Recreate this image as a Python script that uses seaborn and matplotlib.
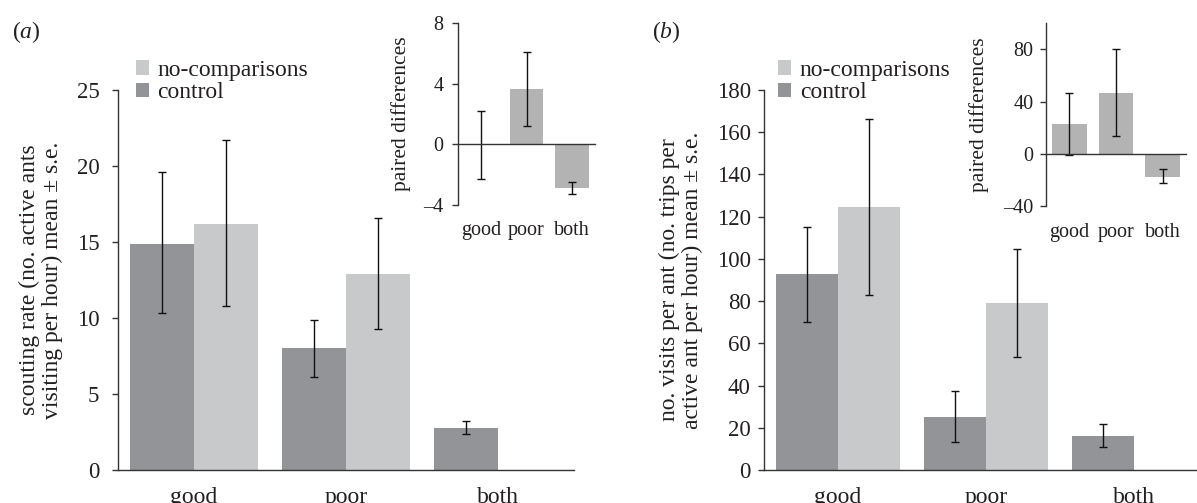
import matplotlib
matplotlib.use("Agg")
import matplotlib.pyplot as plt
import matplotlib.transforms as mtransforms
from matplotlib.patches import Patch
import numpy as np
import pandas as pd
import seaborn as sns

# categories and groups
categories = ["good", "poor", "both"]
groups = ["control", "no-comparisons"]

# (a) scouting rate, mean with s.e. limits
scout_control = [14.9, 8.0, 2.75]
scout_control_lo = [10.3, 6.1, 2.35]
scout_control_hi = [19.6, 9.9, 3.2]
scout_nocomp = [16.2, 12.9, 0.0]
scout_nocomp_lo = [10.8, 9.25, 0.0]
scout_nocomp_hi = [21.7, 16.55, 0.0]

# (a) inset: paired differences
scout_diff = [0.0, 3.65, -2.85]
scout_diff_lo = [-2.25, 1.2, -3.25]
scout_diff_hi = [2.2, 6.1, -2.45]

# (b) visits per ant
visit_control = [92.8, 25.3, 16.1]
visit_control_lo = [70.3, 13.4, 10.7]
visit_control_hi = [115.2, 37.4, 21.6]
visit_nocomp = [124.4, 79.0, 0.0]
visit_nocomp_lo = [82.9, 53.7, 0.0]
visit_nocomp_hi = [166.3, 104.5, 0.0]

# (b) inset: paired differences
visit_diff = [22.8, 46.5, -17.6]
visit_diff_lo = [-1.0, 13.3, -22.5]
visit_diff_hi = [46.3, 80.0, -12.0]

CONTROL = "#939498"
NOCOMP = "#c8c9cb"
INSET = "#b3b3b3"
INK = "#231f20"
AXIS = "#333333"

sns.set_theme(style="white")
plt.rcParams["font.family"] = ["Liberation Serif", "DejaVu Serif"]
plt.rcParams["mathtext.fontset"] = "custom"
plt.rcParams["mathtext.rm"] = "Liberation Serif"
plt.rcParams["mathtext.it"] = "Liberation Serif:italic"
plt.rcParams["text.color"] = INK
plt.rcParams["axes.labelcolor"] = INK
plt.rcParams["xtick.color"] = INK
plt.rcParams["ytick.color"] = INK
plt.rcParams["axes.edgecolor"] = AXIS

W, H = 1197, 503


def rect(left, right, top, bottom):
    return [left / W, 1 - bottom / H, (right - left) / W, (bottom - top) / H]


def add_errors(ax, lookup, lw=1.0, cap=3):
    for patch in ax.patches:
        cx = patch.get_x() + patch.get_width() / 2
        key = lookup(cx)
        if key is None:
            continue
        v, lo, hi = key
        if hi == lo:
            continue
        ax.errorbar(cx, v, yerr=[[v - lo], [hi - v]], fmt="none",
                    ecolor="#111111", elinewidth=lw, capsize=cap, capthick=lw)


def main_panel(ax, ctrl, ctrl_lo, ctrl_hi, nc, nc_lo, nc_hi, ymax, ystep,
               ylabel, label_x, tick_pad):
    df = pd.DataFrame({
        "category": categories * 2,
        "group": [groups[0]] * 3 + [groups[1]] * 3,
        "value": ctrl + nc,
    })
    sns.barplot(data=df, x="category", y="value", hue="group",
                order=categories, hue_order=groups,
                palette=[CONTROL, NOCOMP], saturation=1, width=0.84,
                errorbar=None, linewidth=0, legend=False, ax=ax)

    table = {0: (ctrl, ctrl_lo, ctrl_hi), 1: (nc, nc_lo, nc_hi)}

    def lookup(cx):
        i = int(round(cx))
        g = 0 if cx < i else 1
        vals, lo, hi = table[g]
        return vals[i], lo[i], hi[i]

    add_errors(ax, lookup)

    ax.set_xlim(-0.5, 2.5)
    ax.set_ylim(0, ymax)
    ax.set_yticks(np.arange(0, ymax + 1, ystep))
    ax.set_xticks([-0.5, 0.5, 1.5, 2.5])
    ax.set_xticklabels([])
    ax.set_xticks(range(len(categories)), minor=True)
    ax.set_xticklabels(categories, minor=True)
    ax.tick_params(axis="x", which="major", direction="out", length=5,
                   width=1, color=AXIS)
    ax.tick_params(axis="x", which="minor", length=0, pad=12, labelsize=17)
    ax.tick_params(axis="y", direction="out", length=4.5, width=1,
                   color=AXIS, pad=tick_pad, labelsize=16.5, left=True)
    for side in ["top", "right"]:
        ax.spines[side].set_visible(False)
    for side in ["left", "bottom"]:
        ax.spines[side].set_linewidth(1)
    ax.set_xlabel("")
    ax.set_ylabel(ylabel, fontsize=17, linespacing=1.1)
    ax.yaxis.set_label_coords(label_x, 0.5)


def inset_panel(ax, diff, lo, hi, ylim, yticks, label_x, tick_pad):
    df = pd.DataFrame({"category": categories, "value": diff})
    sns.barplot(data=df, x="category", y="value", order=categories,
                color=INSET, saturation=1, width=0.74, errorbar=None,
                linewidth=0, ax=ax)

    def lookup(cx):
        i = int(round(cx))
        return diff[i], lo[i], hi[i]

    add_errors(ax, lookup, lw=1.0, cap=3)

    ax.set_xlim(-0.5, 2.5)
    ax.set_ylim(*ylim)
    ax.set_yticks(yticks)
    ax.spines["bottom"].set_position(("data", 0))
    ax.set_xticks([-0.5, 0.5, 1.5, 2.5])
    ax.set_xticklabels([])
    ax.tick_params(axis="x", direction="out", length=4.5, width=1, color=AXIS)
    ax.tick_params(axis="y", direction="out", length=4.5, width=1,
                   color=AXIS, pad=tick_pad, labelsize=14.5, left=True)
    yticklabels = [str(t).replace("-", "\u2013") for t in yticks]
    ax.set_yticklabels(yticklabels)
    for side in ["top", "right"]:
        ax.spines[side].set_visible(False)
    for side in ["left", "bottom"]:
        ax.spines[side].set_linewidth(1)
    trans = mtransforms.blended_transform_factory(ax.transData, ax.transAxes)
    for i, name in enumerate(categories):
        ax.text(i, -0.143, name, transform=trans, ha="center", va="center",
                fontsize=14.5)
    ax.set_xlabel("")
    ax.set_ylabel("paired differences", fontsize=15.5)
    ax.yaxis.set_label_coords(label_x, 0.5)


fig = plt.figure(figsize=(W / 100, H / 100), dpi=100)

ax_a = fig.add_axes(rect(118, 574, 90, 470))
main_panel(ax_a, scout_control, scout_control_lo, scout_control_hi,
           scout_nocomp, scout_nocomp_lo, scout_nocomp_hi, 25, 5,
           "scouting rate (no. active ants\nvisiting per hour) mean \u00b1 s.e.",
           -0.12, 9)

ax_b = fig.add_axes(rect(764, 1208, 90, 470))
main_panel(ax_b, visit_control, visit_control_lo, visit_control_hi,
           visit_nocomp, visit_nocomp_lo, visit_nocomp_hi, 180, 20,
           "no. visits per ant (no. trips per\nactive ant per hour) mean \u00b1 s.e.",
           -0.137, 5)

ins_a = fig.add_axes(rect(458, 595, 23.3, 205))
inset_panel(ins_a, scout_diff, scout_diff_lo, scout_diff_hi, (-4, 8),
            [-4, 0, 4, 8], -0.34, 6)

ins_b = fig.add_axes(rect(1046, 1186, 23.3, 206))
inset_panel(ins_b, visit_diff, visit_diff_lo, visit_diff_hi, (-40, 100),
            [-40, 0, 40, 80], -0.41, 4.5)

handles = [Patch(facecolor=NOCOMP, edgecolor="none"),
           Patch(facecolor=CONTROL, edgecolor="none")]
labels = ["no-comparisons", "control"]
for ax, x0 in [(ax_a, 0.039), (ax_b, 0.0315)]:
    ax.legend(handles, labels, loc="upper left", bbox_to_anchor=(x0, 1.079),
              frameon=False, fontsize=17, borderpad=0, borderaxespad=0,
              handlelength=0.57, handleheight=0.57, handletextpad=0.35,
              labelspacing=0.05)

fig.text(12 / W, 1 - 32 / H, "($a$)", fontsize=17, va="center", ha="left")
fig.text(652 / W, 1 - 32 / H, "($b$)", fontsize=17, va="center", ha="left")

fig.savefig("out.png", dpi=100)
